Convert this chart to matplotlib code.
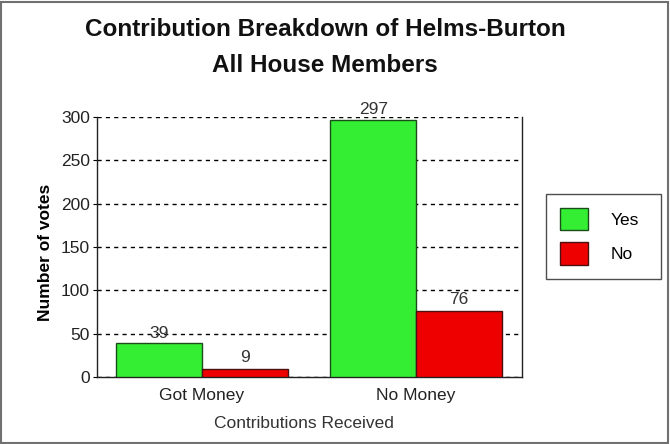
import matplotlib
matplotlib.use("Agg")
import matplotlib.pyplot as plt
import numpy as np
from matplotlib.patches import Rectangle

groups = ["Got Money", "No Money"]
yes_votes = [39, 297]
no_votes = [9, 76]
yticks = [0, 50, 100, 150, 200, 250, 300]

W, H = 670, 444
fig = plt.figure(figsize=(W / 100, H / 100), dpi=100)
fig.patch.set_facecolor("white")

# outer frame
fig.patches.append(Rectangle((1 / W, 1 / H), 1 - 3 / W, 1 - 3 / H, transform=fig.transFigure,
                             fill=False, edgecolor="#707070", linewidth=1.5))

# axes box in pixels: x 97..522, y 117..377
ax = fig.add_axes([97 / W, 1 - 377 / H, (522 - 97) / W, (377 - 117) / H])

fs = 12.5
x = np.arange(len(groups))
w = 0.4
ax.bar(x - w / 2, yes_votes, w, color="#33ee33", edgecolor="#1a4d1a", linewidth=1, label="Yes", zorder=3)
ax.bar(x + w / 2, no_votes, w, color="#ee0000", edgecolor="#4d1010", linewidth=1, label="No", zorder=3)

for xi, v in zip(x - w / 2, yes_votes):
    ax.text(xi, v + 3, str(v), ha="center", va="bottom", fontsize=fs,
            family="Liberation Sans", color="#333333", zorder=4)
for xi, v in zip(x + w / 2, no_votes):
    ax.text(xi, v + 5, str(v), ha="center", va="bottom", fontsize=fs,
            family="Liberation Sans", color="#333333", zorder=4)

ax.set_xlim(-0.49, 1.495)
ax.set_ylim(0, 300)
ax.set_yticks(yticks)
ax.set_xticks(x)
ax.set_xticklabels(groups)
for lab in ax.get_xticklabels() + ax.get_yticklabels():
    lab.set_family("Liberation Sans")
    lab.set_fontsize(fs)
    lab.set_color("#222222")
ax.tick_params(axis="x", length=0, pad=8)
ax.tick_params(axis="y", length=3, pad=2)

ax.yaxis.grid(True, linestyle=(0, (3, 3)), color="black", linewidth=1, zorder=0)
ax.set_axisbelow(True)
ax.spines["top"].set_visible(False)
for s in ["left", "bottom", "right"]:
    ax.spines[s].set_color("#222222")
    ax.spines[s].set_linewidth(1)

ax.set_ylabel("Number of votes", fontsize=12.5, family="Liberation Sans", fontweight="bold")
ax.yaxis.set_label_coords((53 - 97) / 425, (377 - 252) / 260)
ax.set_xlabel("Contributions Received", fontsize=fs, family="Liberation Sans", color="#333333")
ax.xaxis.set_label_coords((304 - 97) / 425, (377 - 416) / 260)

fig.text(325 / W, 1 - 30 / H, "Contribution Breakdown of Helms-Burton", ha="center", va="center",
         fontsize=17.5, fontweight="bold", family="Liberation Sans", color="#111111")
fig.text(325 / W, 1 - 65 / H, "All House Members", ha="center", va="center",
         fontsize=17.5, fontweight="bold", family="Liberation Sans", color="#111111")

leg = ax.legend(loc="upper left", bbox_to_anchor=(546 / W, 1 - 282 / H, (661 - 546) / W, (282 - 194) / H),
                bbox_transform=fig.transFigure, mode="expand", frameon=True, fancybox=False,
                prop={"family": "Liberation Sans", "size": fs}, handlelength=1.6, handleheight=1.6,
                labelspacing=0.7, borderpad=0.8, handletextpad=1.3, borderaxespad=0)
leg.get_frame().set_edgecolor("#222222")
leg.get_frame().set_linewidth(1)

fig.savefig("out.png", dpi=100)
